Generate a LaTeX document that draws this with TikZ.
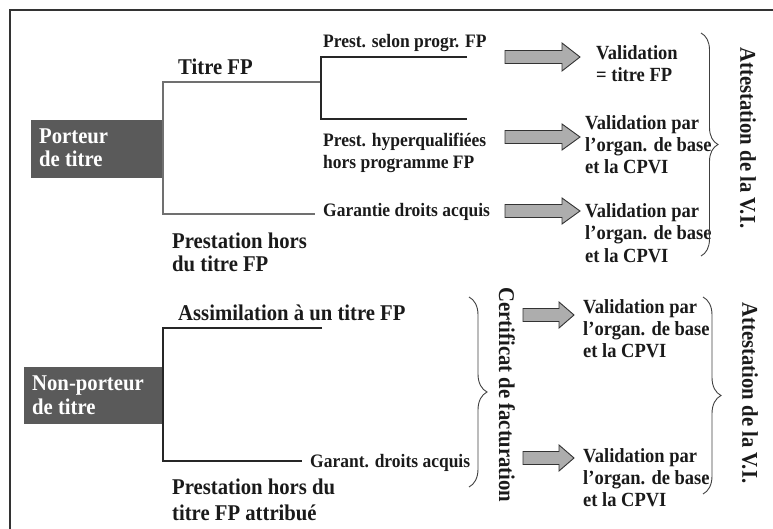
\documentclass[tikz,border=0pt]{standalone}
\usepackage{fontspec}
\setmainfont{Liberation Serif}[FakeStretch=0.92]
\usetikzlibrary{decorations.pathreplacing}
\definecolor{boxfill}{HTML}{5A5A5A}
\definecolor{arrfill}{HTML}{ADADAD}
\definecolor{lvlone}{HTML}{707070}
\definecolor{txt}{HTML}{1A1A1A}
\newcommand\myblockarrow[6]{\draw[barr] (#1,{#4-#5}) -- (#2,{#4-#5}) -- (#2,{#4-#6}) -- (#3,#4) -- (#2,{#4+#6}) -- (#2,{#4+#5}) -- (#1,{#4+#5}) -- cycle;}
\begin{document}
\begin{tikzpicture}[x=1pt,y=-1pt,
  big/.style={font=\bfseries\fontsize{22.5}{24}\selectfont, text=txt, inner sep=0pt, anchor=base west},
  small/.style={font=\bfseries\fontsize{19}{22}\selectfont, text=txt, inner sep=0pt, anchor=base west},
  valtext/.style={font=\bfseries\fontsize{20.1}{22}\selectfont, text=txt, inner sep=0pt, anchor=base west},
  boxtext/.style={font=\bfseries\fontsize{22.5}{24}\selectfont, text=white, inner sep=0pt, anchor=base west},
  vert/.style={font=\bfseries\fontsize{22.5}{24}\selectfont, text=txt, inner sep=0pt, rotate=-90},
  tree1/.style={draw=lvlone, line width=1.2pt},
  tree2/.style={draw=black!85, line width=1.2pt},
  barr/.style={draw=black!80, fill=arrfill, line width=0.9pt, line join=miter},
  brc/.style={draw=black!75, line width=0.9pt, decorate, decoration={brace, amplitude=#1}},
  pbox/.style={fill=boxfill, draw=none}
]
\useasboundingbox (0,0) rectangle (773,529);
% frame
\draw[line width=1.5pt, draw=black!80] (10,529) -- (10,10) -- (773,10);

% ---------- top section ----------
\fill[pbox] (31,120) rectangle (163,178);
\node[boxtext] (p1) at (39,144) {Porteur};
\node[boxtext] (p2) at (39,167) {de titre};

\coordinate (t1top) at (163,82);
\coordinate (t1bot) at (163,214);
\draw[tree1] (321,82) -- (t1top) -- (t1bot) -- (315,214);

\node[big] (titre) at (178,75) {Titre FP};
\node[big] (phors1) at (172,248) {Prestation hors};
\node[big] (phors2) at (172,271) {du titre FP};

\draw[tree2] (467,57) -- (321,57) -- (321,119) -- (467,119);

\node[small] (ps) at (323,48) {Prest. selon progr. FP};
\node[small] (ph1) at (323,147) {Prest. hyperqualifiées};
\node[small] (ph2) at (323,169) {hors programme FP};
\node[small] (gd) at (323,217) {Garantie droits acquis};

\myblockarrow{505}{562}{580}{57}{6.5}{14}
\myblockarrow{505}{562}{580}{137}{6.5}{13}
\myblockarrow{505}{562}{580}{211}{6.5}{13}

\node[valtext] (v1a) at (596,60) {Validation};
\node[valtext] (v1b) at (596,82) {= titre FP};
\node[valtext] (v2a) at (585,130) {Validation par};
\node[valtext] (v2b) at (585,152) {l’organ. de base};
\node[valtext] (v2c) at (585,174) {et la CPVI};
\node[valtext] (v3a) at (585,218) {Validation par};
\node[valtext] (v3b) at (585,240) {l’organ. de base};
\node[valtext] (v3c) at (585,262) {et la CPVI};

\draw[brc=17pt] (701,33) -- (701,256);
\node[vert] (att1) at (748,138) {Attestation de la V.I.};

% ---------- bottom section ----------
\fill[pbox] (24,367) rectangle (163,424);
\node[boxtext] (n1) at (32,390) {Non-porteur};
\node[boxtext] (n2) at (32,414) {de titre};

\coordinate (t2top) at (163,328);
\coordinate (t2bot) at (163,461);
\draw[tree2] (322,328) -- (t2top) -- (t2bot) -- (302,461);

\node[big] (assim) at (178,320) {Assimilation à un titre FP};
\node[small] (gad) at (310,467) {Garant. droits acquis};
\node[big] (pa1) at (172,494) {Prestation hors du};
\node[big] (pa2) at (172,520) {titre FP attribué};

\draw[brc=18pt] (469,297) -- (469,487);
\node[vert] (cert) at (507,395) {Certificat de facturation};

\myblockarrow{523}{559}{574}{315}{6.5}{13}
\myblockarrow{523}{559}{574}{458}{6.5}{13}

\node[valtext] (v4a) at (583,313) {Validation par};
\node[valtext] (v4b) at (583,335) {l’organ. de base};
\node[valtext] (v4c) at (583,357) {et la CPVI};
\node[valtext] (v5a) at (583,462) {Validation par};
\node[valtext] (v5b) at (583,484) {l’organ. de base};
\node[valtext] (v5c) at (583,506) {et la CPVI};

\draw[brc=18pt] (703,297) -- (703,494);
\node[vert] (att2) at (750,393) {Attestation de la V.I.};
\end{tikzpicture}
\end{document}
